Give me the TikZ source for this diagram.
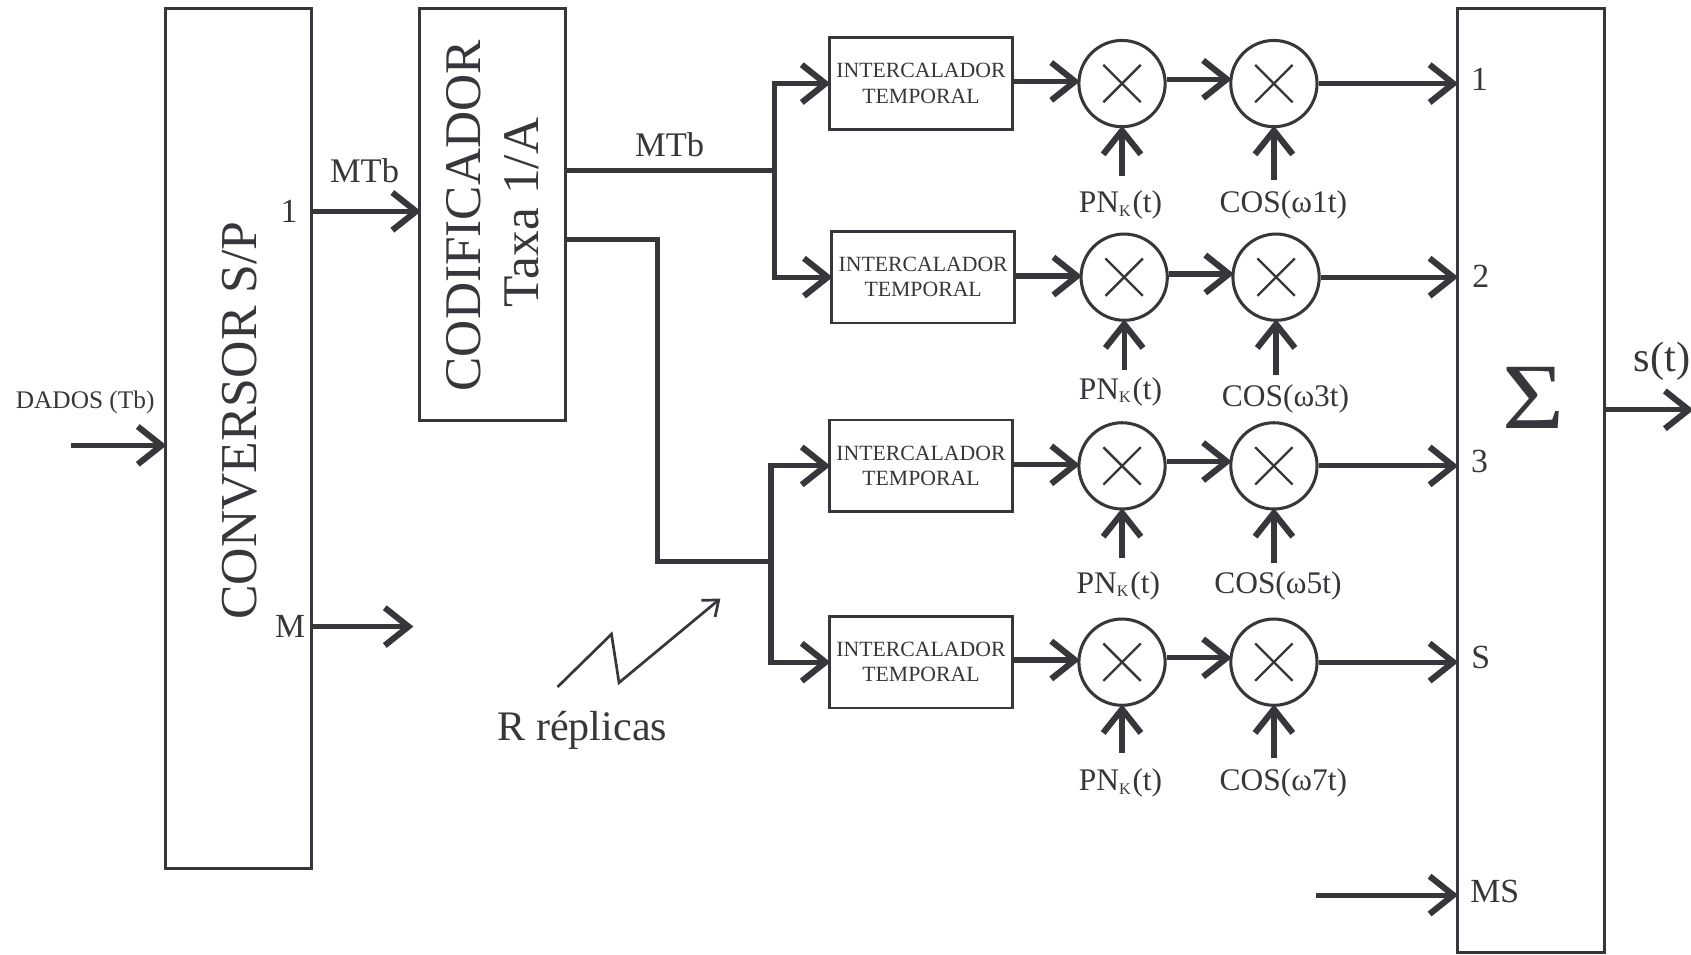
\documentclass[tikz,border=0pt]{standalone}
\usepackage{fontspec}
\setmainfont{Liberation Serif}
\usepackage{xcolor}
\usetikzlibrary{arrows.meta, positioning}
\definecolor{inkc}{HTML}{37363A}
\newcommand{\fs}[1]{\fontsize{#1}{#1}\selectfont}
\tikzstyle{bigbox} = [rectangle, draw=inkc, line width=0.8pt, minimum width=40.6pt]
\tikzstyle{interleaver} = [rectangle, draw=inkc, line width=0.8pt, minimum width=51pt, minimum height=25.5pt, inner sep=0pt, align=center, font=\fs{6.05}, text=inkc]
\tikzstyle{mult} = [circle, draw=inkc, line width=0.85pt, minimum size=24pt, inner sep=0pt, path picture={\draw[inkc, line width=0.65pt] ([shift={(-5.2pt,-5.2pt)}]path picture bounding box.center) -- ([shift={(5.2pt,5.2pt)}]path picture bounding box.center) ([shift={(-5.2pt,5.2pt)}]path picture bounding box.center) -- ([shift={(5.2pt,-5.2pt)}]path picture bounding box.center);}]
\tikzstyle{lbl} = [inner sep=0pt, font=\fs{8.75}, text=inkc]
\tikzstyle{port} = [inner sep=0pt, font=\fs{9.4}, text=inkc]
\tikzstyle{wire} = [inkc, line width=1.45pt]
\tikzstyle{arrow} = [inkc, line width=1.45pt, shorten >=-0.7pt, -{Straight Barb[length=6.6pt, width=10.5pt, line width=1.7pt]}]
\tikzstyle{thinarrow} = [inkc, line width=0.75pt, -{Straight Barb[length=3.8pt, width=6pt, line width=0.75pt]}]

\begin{document}
\begin{tikzpicture}[x=0.3pt, y=-0.3pt]
    \useasboundingbox (0,0) rectangle (1568,885);

    % Nodes
    \node (conv) [bigbox, minimum height=239.1pt] at (221,406.5) {};
    \node (convtext) [rotate=90, inner sep=0pt, font=\fs{14.4}, text=inkc] at (222,390) {CONVERSOR S/P};
    \node (coder) [bigbox, minimum height=114.6pt] at (457,199) {};
    \node (codertext) [rotate=90, inner sep=0pt, font=\fs{14.3}, text=inkc] at (430,200) {CODIFICADOR};
    \node (ratetext) [rotate=90, inner sep=0pt, font=\fs{14.3}, text=inkc] at (484,197) {Taxa 1/A};
    \node (sumbox) [bigbox, minimum height=262.5pt, minimum width=41pt] at (1419.5,445.5) {};
    \node (sigma) [inner sep=0pt, font=\fs{26}, text=inkc, xscale=1.14, transform shape] at (1422,369) {Σ};

    \node (data) [inner sep=0pt, font=\fs{7.05}, text=inkc] at (79,373.5) {DADOS (Tb)};
    \node (one) [port] at (268,196) {1};
    \node (em) [port] at (269,581) {M};
    \node (mtba) [inner sep=0pt, font=\fs{9.6}, text=inkc] at (338,158.5) {MTb};
    \node (mtbb) [inner sep=0pt, font=\fs{9.6}, text=inkc] at (621,134.5) {MTb};
    \node (replicas) [inner sep=0pt, font=\fs{11.7}, text=inkc] at (540,677) {R réplicas};
    \node (output) [inner sep=0pt, font=\fs{11.8}, text=inkc] at (1541,335) {s(t)};

    \node (ilv1) [interleaver] at (854,77.5) {INTERCALADOR\\[1pt]TEMPORAL};
    \node (mxa1) [mult, right=17.6pt of ilv1] {};
    \node (mxb1) [mult, right=17.4pt of mxa1] {};
    \node (pna1) [lbl] at (1039,190) {PN\textsubscript{\fontsize{4.5}{5}\selectfont K}(t)};
    \node (cosb1) [lbl] at (1190,190) {COS(ω1t)};

    \node (ilv2) [interleaver] at (856,257) {INTERCALADOR\\[1pt]TEMPORAL};
    \node (mxa2) [mult, right=17.6pt of ilv2] {};
    \node (mxb2) [mult, right=17.4pt of mxa2] {};
    \node (pna2) [lbl] at (1039,363) {PN\textsubscript{\fontsize{4.5}{5}\selectfont K}(t)};
    \node (cosb2) [lbl] at (1192,370) {COS(ω3t)};

    \node (ilv3) [interleaver] at (854,432) {INTERCALADOR\\[1pt]TEMPORAL};
    \node (mxa3) [mult, right=17.6pt of ilv3] {};
    \node (mxb3) [mult, right=17.4pt of mxa3] {};
    \node (pna3) [lbl] at (1037,543) {PN\textsubscript{\fontsize{4.5}{5}\selectfont K}(t)};
    \node (cosb3) [lbl] at (1185,543) {COS(ω5t)};

    \node (ilv4) [interleaver] at (854,614) {INTERCALADOR\\[1pt]TEMPORAL};
    \node (mxa4) [mult, right=17.6pt of ilv4] {};
    \node (mxb4) [mult, right=17.4pt of mxa4] {};
    \node (pna4) [lbl] at (1039,726) {PN\textsubscript{\fontsize{4.5}{5}\selectfont K}(t)};
    \node (cosb4) [lbl] at (1190,726) {COS(ω7t)};

    \node (in1) [port] at (1372,74) {1};
    \node (in2) [port] at (1373,256) {2};
    \node (in3) [port] at (1372,428) {3};
    \node (ins) [port] at (1373,610) {S};
    \node (inms) [port] at (1386,827) {MS};

    % Free ends and branch points
    \coordinate (datastart) at (66,413);
    \coordinate (mend) at (381,581);
    \coordinate (msstart) at (1220,830);
    \coordinate (outend) at (1568,380);
    \coordinate (brupper) at (718,158);
    \coordinate (brturn) at (610,222);
    \coordinate (brlower) at (715,521);
    \coordinate (zigstart) at (517,637);
    \coordinate (zigend) at (668,555);
    \coordinate (pnin1) at (1041,163);
    \coordinate (cosin1) at (1182,167);
    \coordinate (pnin2) at (1043,343);
    \coordinate (cosin2) at (1184,348);
    \coordinate (pnin3) at (1041,517);
    \coordinate (cosin3) at (1182,522);
    \coordinate (pnin4) at (1041,698);
    \coordinate (cosin4) at (1182,703);

    % Arrows
    \draw [arrow] (datastart) -- (conv.west |- datastart);
    \draw [arrow] (conv.east |- one) -- (coder.west |- one);
    \draw [arrow] (conv.east |- mend) -- (mend);

    \draw [wire] (coder.east |- brupper) -- (brupper);
    \draw [arrow] (brupper) |- (ilv1.west);
    \draw [arrow] (brupper) |- (ilv2.west);
    \draw [wire] (coder.east |- brturn) -- (brturn) |- (brlower);
    \draw [arrow] (brlower) |- (ilv3.west);
    \draw [arrow] (brlower) |- (ilv4.west);
    \draw [thinarrow] (zigstart) -- (567,588) -- (574,633) -- (zigend);

    \draw [arrow] ([yshift=0.6pt]ilv1.east) -- ([yshift=0.6pt]mxa1.west);
    \draw [arrow] ([yshift=1.2pt]mxa1.east) -- ([yshift=1.2pt]mxb1.west);
    \draw [arrow] (mxb1.east) -- (sumbox.west |- mxb1);
    \draw [arrow] (mxa1 |- pnin1) -- (mxa1.south);
    \draw [arrow] (mxb1 |- cosin1) -- (mxb1.south);

    \draw [arrow] ([yshift=0.3pt]ilv2.east) -- ([yshift=0.3pt]mxa2.west);
    \draw [arrow] ([yshift=0.9pt]mxa2.east) -- ([yshift=0.9pt]mxb2.west);
    \draw [arrow] (mxb2.east) -- (sumbox.west |- mxb2);
    \draw [arrow] (mxa2 |- pnin2) -- (mxa2.south);
    \draw [arrow] (mxb2 |- cosin2) -- (mxb2.south);

    \draw [arrow] ([yshift=0.3pt]ilv3.east) -- ([yshift=0.3pt]mxa3.west);
    \draw [arrow] ([yshift=1.2pt]mxa3.east) -- ([yshift=1.2pt]mxb3.west);
    \draw [arrow] (mxb3.east) -- (sumbox.west |- mxb3);
    \draw [arrow] (mxa3 |- pnin3) -- (mxa3.south);
    \draw [arrow] (mxb3 |- cosin3) -- (mxb3.south);

    \draw [arrow] ([yshift=0.6pt]ilv4.east) -- ([yshift=0.6pt]mxa4.west);
    \draw [arrow] ([yshift=1.2pt]mxa4.east) -- ([yshift=1.2pt]mxb4.west);
    \draw [arrow] (mxb4.east) -- (sumbox.west |- mxb4);
    \draw [arrow] (mxa4 |- pnin4) -- (mxa4.south);
    \draw [arrow] (mxb4 |- cosin4) -- (mxb4.south);

    \draw [arrow] (msstart) -- (sumbox.west |- msstart);
    \draw [arrow] (sumbox.east |- outend) -- (outend);
\end{tikzpicture}
\end{document}
